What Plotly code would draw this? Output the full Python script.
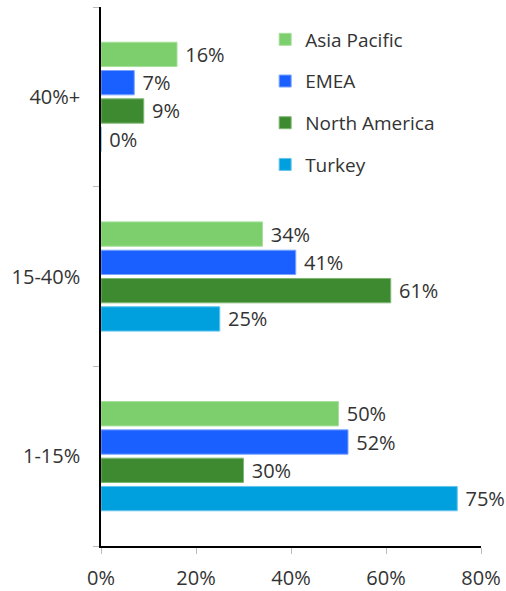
import plotly.graph_objects as go

categories = ["1-15%", "15-40%", "40%+"]
series_names = ["Asia Pacific", "EMEA", "North America", "Turkey"]
asia_pacific = [50, 34, 16]
emea = [52, 41, 7]
north_america = [30, 61, 9]
turkey = [75, 25, 0]
x_ticks = [0, 20, 40, 60, 80]
x_tick_labels = ["0%", "20%", "40%", "60%", "80%"]

values = [asia_pacific, emea, north_america, turkey]
colors = ["#7ccf6c", "#1a5fff", "#3e8a30", "#00a0df"]
borders = ["#a6e09a", "#7aa4ff", "#7fb873", "#66c4ec"]

FONT = "Open Sans, Noto Sans, sans-serif"

fig = go.Figure()
# Plotly stacks horizontal grouped bars bottom-up, so add in reverse order
series = list(zip(series_names, values, colors, borders))
for rank, (name, vals, col, bcol) in reversed(list(enumerate(series))):
    fig.add_trace(go.Bar(
        y=categories, x=vals, name=name, orientation="h",
        marker=dict(color=col, line=dict(color=bcol, width=1)),
        text=[f"{v}%" for v in vals],
        texttemplate=" %{text}",
        textposition="outside",
        textfont=dict(size=20, color="#333333", family=FONT),
        cliponaxis=False,
        constraintext="none",
        legendgroup=name,
        legendrank=rank + 1,
    ))

fig.update_layout(
    width=506, height=591,
    margin=dict(l=101, r=25, t=7, b=45),
    barmode="group",
    bargap=0.37,
    bargroupgap=0.14,
    paper_bgcolor="white",
    plot_bgcolor="white",
    font=dict(family=FONT, size=20, color="#333333"),
    showlegend=True,
    legend=dict(
        traceorder="grouped",
        x=0.432, y=0.975, xanchor="left", yanchor="top",
        font=dict(size=19, color="#333333", family=FONT),
        tracegroupgap=14,
        itemwidth=30,
        bgcolor="rgba(0,0,0,0)",
    ),
    xaxis=dict(
        range=[0, 80],
        tickvals=x_ticks, ticktext=x_tick_labels,
        showgrid=False, zeroline=False,
        showline=True, linecolor="black", linewidth=1.5,
        ticks="outside", ticklen=6, tickcolor="#bbbbbb",
        ticklabelstandoff=7,
        tickfont=dict(size=20, color="#333333"),
        automargin=False,
    ),
    yaxis=dict(
        categoryorder="array", categoryarray=categories,
        showgrid=False, zeroline=False,
        showline=True, linecolor="black", linewidth=1.5,
        ticks="outside", ticklen=6, tickcolor="#bbbbbb",
        tickson="boundaries",
        ticklabelstandoff=15,
        tickfont=dict(size=20, color="#333333"),
        automargin=False,
    ),
)

fig.write_html("out.html", config={"displayModeBar": False},
               post_script="document.body.style.margin='0px';")
